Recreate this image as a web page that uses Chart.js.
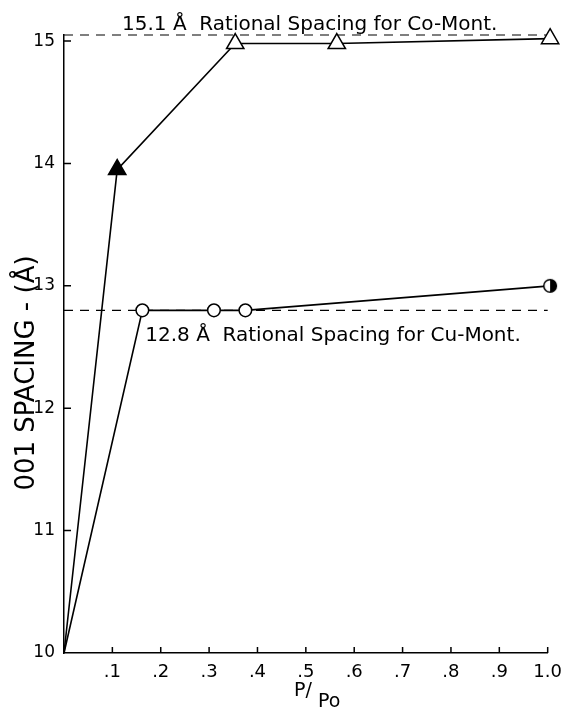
<!DOCTYPE html>
<html>
<head>
<meta charset="utf-8">
<script src="https://cdn.jsdelivr.net/npm/chart.js@4"></script>
<style>
  body { margin: 0; background: #fff; }
  canvas { display: block; }
</style>
</head>
<body>
<canvas id="spacingChart" width="571" height="710"></canvas>
<script>
// ticks
const X_TICKS = [0.1, 0.2, 0.3, 0.4, 0.5, 0.6, 0.7, 0.8, 0.9, 1.0];
const X_TICK_LABELS = ['.1', '.2', '.3', '.4', '.5', '.6', '.7', '.8', '.9', '1.0'];
const Y_TICKS = [10, 11, 12, 13, 14, 15];

// Co-Mont (triangles)
const CO_X = [0, 0.11, 0.354, 0.564, 1.005];
const CO_Y = [10, 13.95, 14.98, 14.98, 15.02];

// Cu-Mont (circles)
const CU_X = [0, 0.162, 0.31, 0.375, 1.005];
const CU_Y = [10, 12.8, 12.8, 12.8, 13.0];

// rational spacing lines (as drawn)
const CO_RATIONAL = 15.05;
const CU_RATIONAL = 12.8;

const FONT = '"DejaVu Sans", sans-serif';

// half filled circle for the last Cu point
const halfDot = document.createElement('canvas');
halfDot.width = 16; halfDot.height = 16;
(() => {
    const c = halfDot.getContext('2d');
    c.beginPath(); c.arc(8, 8, 6.3, 0, Math.PI * 2);
    c.fillStyle = '#fff'; c.fill();
    c.beginPath(); c.arc(8, 8, 6.3, -Math.PI / 2, Math.PI / 2); c.closePath();
    c.fillStyle = '#000'; c.fill();
    c.beginPath(); c.arc(8, 8, 6.3, 0, Math.PI * 2);
    c.lineWidth = 1.5; c.strokeStyle = '#000'; c.stroke();
})();

const toPts = (xs, ys) => xs.map((x, i) => ({ x: x, y: ys[i] }));

// inner ticks, annotations and axis titles
const extras = {
    id: 'extras',
    afterDraw(chart) {
        const { ctx, scales: { x, y } } = chart;
        ctx.save();
        ctx.strokeStyle = '#000';
        ctx.lineWidth = 1.5;
        ctx.beginPath();
        X_TICKS.forEach(v => {
            const px = x.getPixelForValue(v);
            ctx.moveTo(px, y.bottom); ctx.lineTo(px, y.bottom - 6);
        });
        Y_TICKS.slice(1).forEach(v => {
            const py = y.getPixelForValue(v);
            ctx.moveTo(x.left, py); ctx.lineTo(x.left + 7, py);
        });
        ctx.stroke();

        ctx.fillStyle = '#000';
        ctx.font = '20px ' + FONT;
        ctx.textAlign = 'left';
        ctx.textBaseline = 'alphabetic';
        ctx.fillText('15.1 Å  Rational Spacing for Co-Mont.', x.getPixelForValue(0.12), y.getPixelForValue(CO_RATIONAL) - 5);
        ctx.fillText('12.8 Å  Rational Spacing for Cu-Mont.', x.getPixelForValue(0.168), y.getPixelForValue(CU_RATIONAL) + 31);

        // y title
        ctx.save();
        ctx.translate(34, 373);
        ctx.rotate(-Math.PI / 2);
        ctx.textAlign = 'center';
        ctx.font = '26px ' + FONT;
        ctx.fillText('001 SPACING - (Å)', 0, 0);
        ctx.restore();

        // x title
        ctx.font = '19px ' + FONT;
        ctx.fillText('P/', 294, 696);
        ctx.fillText('Po', 318, 707);
        ctx.restore();
    }
};

new Chart(document.getElementById('spacingChart'), {
    type: 'scatter',
    data: {
        datasets: [
            {
                label: 'Co-Mont',
                data: toPts(CO_X, CO_Y),
                showLine: true,
                borderColor: '#000',
                borderWidth: 1.6,
                pointStyle: 'triangle',
                pointRadius: ctx => ctx.dataIndex === 0 ? 0 : 10,
                pointBorderWidth: 1.5,
                pointBorderColor: '#000',
                pointBackgroundColor: ctx => ctx.dataIndex === 1 ? '#000' : '#fff',
                clip: false
            },
            {
                label: 'Cu-Mont',
                data: toPts(CU_X, CU_Y),
                showLine: true,
                borderColor: '#000',
                borderWidth: 1.6,
                pointStyle: ctx => ctx.dataIndex === CU_X.length - 1 ? halfDot : 'circle',
                pointRadius: ctx => ctx.dataIndex === 0 ? 0 : 6.3,
                pointBorderWidth: 1.5,
                pointBorderColor: '#000',
                pointBackgroundColor: '#fff',
                clip: false
            },
            {
                label: 'Co rational',
                data: [{ x: 0, y: CO_RATIONAL }, { x: 1, y: CO_RATIONAL }],
                showLine: true,
                borderColor: '#000',
                borderWidth: 1.2,
                borderDash: [9, 7],
                pointRadius: 0,
                clip: false
            },
            {
                label: 'Cu rational',
                data: [{ x: 0, y: CU_RATIONAL }, { x: 1, y: CU_RATIONAL }],
                showLine: true,
                borderColor: '#000',
                borderWidth: 1.2,
                borderDash: [9, 7],
                pointRadius: 0,
                clip: false
            }
        ]
    },
    options: {
        responsive: false,
        animation: false,
        layout: { padding: { top: 35, right: 12, left: 0, bottom: 0 } },
        plugins: {
            legend: { display: false },
            tooltip: { enabled: false }
        },
        scales: {
            x: {
                type: 'linear',
                min: 0,
                max: 1,
                grid: { display: false, drawTicks: false },
                border: { display: true, color: '#000', width: 1.5 },
                afterBuildTicks: s => { s.ticks = X_TICKS.map(v => ({ value: v })); },
                afterFit: s => { s.height = 57; },
                ticks: {
                    color: '#000',
                    padding: 9,
                    maxRotation: 0,
                    font: { family: FONT, size: 18 },
                    callback: v => X_TICK_LABELS[X_TICKS.indexOf(v)]
                }
            },
            y: {
                type: 'linear',
                min: 10,
                max: 15.05,
                grid: { display: false, drawTicks: false },
                border: { display: true, color: '#000', width: 1.5 },
                afterBuildTicks: s => { s.ticks = Y_TICKS.map(v => ({ value: v })); },
                afterFit: s => { s.width = 64; },
                ticks: {
                    color: '#000',
                    padding: 9,
                    font: { family: FONT, size: 17 },
                    callback: v => String(v)
                }
            }
        }
    },
    plugins: [extras]
});
</script>
</body>
</html>
